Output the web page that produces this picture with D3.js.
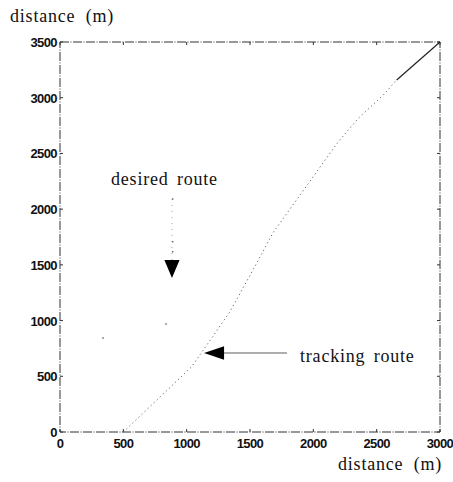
<!DOCTYPE html>
<html>
<head>
<meta charset="utf-8">
<script src="https://cdn.jsdelivr.net/npm/d3@7"></script>
<style>
  body { margin: 0; background: #fff; }
  svg { display: block; }
  .tick-label { font-family: "Liberation Sans", Arial, sans-serif; font-weight: bold; font-size: 13px; letter-spacing: -0.6px; fill: #111; }
  .serif { font-family: "Liberation Serif", "DejaVu Serif", serif; font-size: 18px; letter-spacing: 0.8px; fill: #111; }
</style>
</head>
<body>
<div id="chart"></div>
<script>
// tracking route (m)
let trackX = [500, 1040, 1342, 1545, 1684, 2197, 2355, 2552, 2658, 3000];
let trackY = [0, 586, 1080, 1499, 1792, 2605, 2815, 3024, 3159, 3500];

// desired route, only a few specks survive in the scan
let desiredX = [340, 837, 890, 890, 890];
let desiredY = [843, 969, 1618, 1708, 2091];

let xTicks = [0, 500, 1000, 1500, 2000, 2500, 3000];
let yTicks = [0, 500, 1000, 1500, 2000, 2500, 3000, 3500];

let width = 453, height = 482;
let margin = { top: 42, right: 13, bottom: 50, left: 60 };

let x = d3.scaleLinear().domain([0, 3000]).range([margin.left, width - margin.right]);
let y = d3.scaleLinear().domain([0, 3500]).range([height - margin.bottom, margin.top]);

let svg = d3.select("#chart").append("svg")
  .attr("width", width)
  .attr("height", height);

// frame, a bit broken like the printed original
let frame = "9,1.5,1,1.5";
svg.append("rect")
  .attr("x", x(0)).attr("y", y(3500))
  .attr("width", x(3000) - x(0)).attr("height", y(0) - y(3500))
  .attr("fill", "none")
  .attr("stroke", "#333")
  .attr("stroke-width", 1)
  .attr("stroke-dasharray", frame);

// inward ticks on all four sides
let tk = 3;
let ticks = svg.append("g").attr("stroke", "#333").attr("stroke-width", 1);
ticks.selectAll(".xb").data(xTicks).join("line")
  .attr("x1", d => x(d)).attr("x2", d => x(d))
  .attr("y1", y(0)).attr("y2", y(0) - tk);
ticks.selectAll(".xt").data(xTicks).join("line")
  .attr("x1", d => x(d)).attr("x2", d => x(d))
  .attr("y1", y(3500)).attr("y2", y(3500) + tk);
ticks.selectAll(".yl").data(yTicks).join("line")
  .attr("y1", d => y(d)).attr("y2", d => y(d))
  .attr("x1", x(0)).attr("x2", x(0) + tk);
ticks.selectAll(".yr").data(yTicks).join("line")
  .attr("y1", d => y(d)).attr("y2", d => y(d))
  .attr("x1", x(3000)).attr("x2", x(3000) - tk);

svg.selectAll(".xl").data(xTicks).join("text")
  .attr("class", "tick-label")
  .attr("x", d => x(d))
  .attr("y", y(0) + 16)
  .attr("text-anchor", "middle")
  .text(d => d);

svg.selectAll(".ylab").data(yTicks).join("text")
  .attr("class", "tick-label")
  .attr("x", x(0) - 3)
  .attr("y", d => y(d) + 5)
  .attr("text-anchor", "end")
  .text(d => d);

// axis titles
svg.append("text").attr("class", "serif")
  .attr("x", 10).attr("y", 22)
  .attr("word-spacing", "5px")
  .text("distance (m)");
svg.append("text").attr("class", "serif")
  .attr("x", 338).attr("y", 470)
  .attr("word-spacing", "5px")
  .text("distance (m)");

// tracking route: faint dotted, darker near the end
let line = d3.line().x(d => x(d[0])).y(d => y(d[1]));
let track = d3.zip(trackX, trackY);
svg.append("path")
  .datum(track.slice(0, 9))
  .attr("d", line)
  .attr("fill", "none")
  .attr("stroke", "#555")
  .attr("stroke-width", 0.9)
  .attr("stroke-dasharray", "1.2,3");
svg.append("path")
  .datum(track.slice(8))
  .attr("d", line)
  .attr("fill", "none")
  .attr("stroke", "#222")
  .attr("stroke-width", 1.2);

// desired route specks
svg.selectAll(".des").data(d3.zip(desiredX, desiredY)).join("circle")
  .attr("cx", d => x(d[0])).attr("cy", d => y(d[1]))
  .attr("r", 0.8)
  .attr("fill", "#444");

// annotations
let arrow = d3.line();
// desired route pointer
let dTip = [884, 1382], dBase = 1544, dTop = 2091, dHalf = 60;
svg.append("line")
  .attr("x1", x(dTip[0])).attr("x2", x(dTip[0]))
  .attr("y1", y(dTop)).attr("y2", y(dBase))
  .attr("stroke", "#888").attr("stroke-width", 0.8)
  .attr("stroke-dasharray", "1,5");
svg.append("path")
  .attr("d", arrow([[x(dTip[0] - dHalf), y(dBase)], [x(dTip[0] + dHalf), y(dBase)], [x(dTip[0]), y(dTip[1])]]) + "Z")
  .attr("fill", "#000");
svg.append("text").attr("class", "serif")
  .attr("x", 111).attr("y", 185)
  .attr("word-spacing", "3px")
  .text("desired route");

// tracking route pointer
let tTip = [1137, 709], tBase = 1295, tEnd = 1792, tHalf = 60;
svg.append("line")
  .attr("x1", x(tBase)).attr("x2", x(tEnd))
  .attr("y1", y(tTip[1])).attr("y2", y(tTip[1]))
  .attr("stroke", "#333").attr("stroke-width", 0.8);
svg.append("path")
  .attr("d", arrow([[x(tBase), y(tTip[1] - tHalf)], [x(tBase), y(tTip[1] + tHalf)], [x(tTip[0]), y(tTip[1])]]) + "Z")
  .attr("fill", "#000");
svg.append("text").attr("class", "serif")
  .attr("x", 300).attr("y", 362)
  .attr("word-spacing", "3px")
  .text("tracking route");
</script>
</body>
</html>
